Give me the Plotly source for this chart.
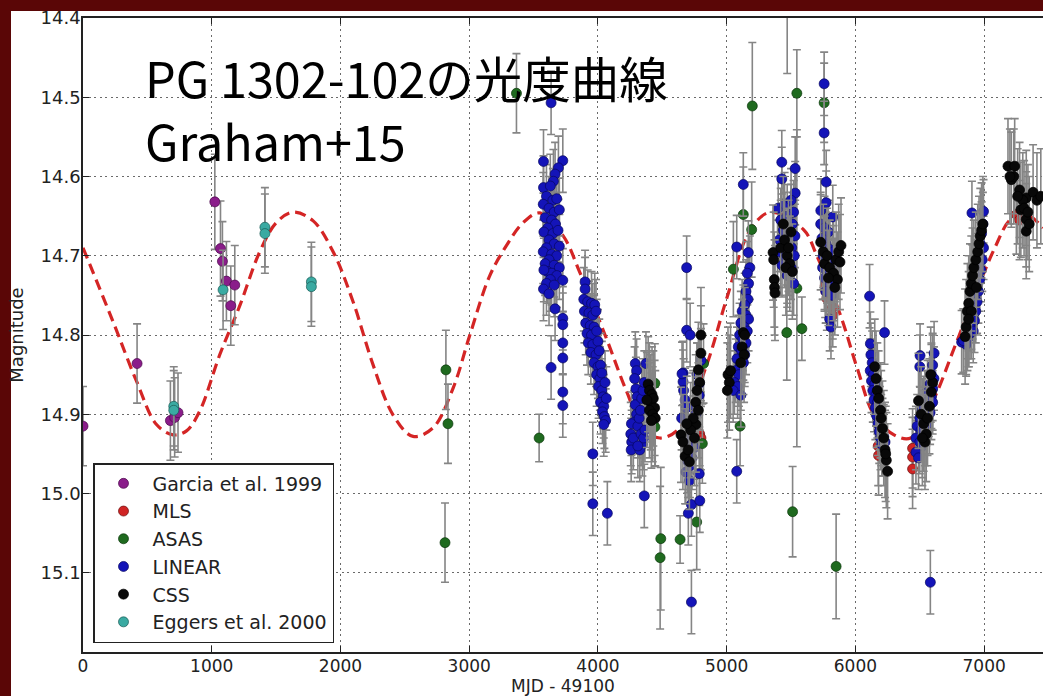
import plotly.graph_objects as go

# ---------------- data ----------------
garcia_x = [0, 420, 679, 712, 738, 1024, 1068, 1083, 1114, 1148, 1179]
garcia_y = [14.915, 14.836, 14.908, 14.904, 14.898, 14.632, 14.691, 14.707, 14.732, 14.763, 14.737]
garcia_e = [0.05, 0.05, 0.05, 0.05, 0.05, 0.06, 0.06, 0.05, 0.05, 0.05, 0.05]

mls_x = [4790, 4800, 5765, 5770, 5778, 5824, 5824, 6177, 6180, 6444, 6444, 6444, 7250, 7275]
mls_y = [14.925, 14.930, 14.738, 14.745, 14.754, 14.765, 14.775, 14.940, 14.952, 14.943, 14.954, 14.969, 14.648, 14.655]
mls_e = [0.04, 0.04, 0.04, 0.04, 0.04, 0.04, 0.04, 0.05, 0.05, 0.05, 0.05, 0.05, 0.05, 0.05]

asas_x = [2812, 2819, 2835, 3367, 3543, 4442, 4442, 4488, 4483, 4638, 4767, 4811, 4820, 5052,
          5104, 5129, 5194, 5199, 5467, 5470, 5512, 5545, 5545, 5584, 5757, 5850]
asas_y = [15.062, 14.844, 14.912, 14.495, 14.930, 14.861, 14.916, 15.057, 15.081, 15.058, 15.036, 14.937, 14.836, 14.717,
          14.915, 14.648, 14.667, 14.511, 14.797, 14.330, 15.023, 14.495, 14.741, 14.792, 14.507, 15.092]
asas_e = [0.05, 0.05, 0.05, 0.05, 0.03, 0.05, 0.05, 0.09, 0.09, 0.03, 0.06, 0.05, 0.05, 0.06,
          0.05, 0.06, 0.06, 0.08, 0.06, 0.14, 0.057, 0.055, 0.2, 0.04, 0.05, 0.066]

linear_x = [
    # 3500-3750
    3577, 3727, 3693, 3667, 3654, 3577, 3630, 3600, 3650, 3680, 3575, 3620, 3660, 3700, 3590, 3640,
    3670, 3610, 3580, 3650, 3690, 3620, 3660, 3600, 3700, 3575, 3640, 3680, 3620, 3590, 3660, 3700,
    3610, 3640, 3680, 3580, 3630, 3727, 3600, 3660, 3577, 3620, 3667, 3727, 3727, 3727, 3727, 3727,
    3727, 3636, 3636, 3960, 3960, 4073,
    # 3880-4075
    3900, 3900, 3890, 3920, 3950, 3975, 3895, 3930, 3960, 3985, 3905, 3940, 3970, 3915, 3950, 3990,
    3925, 3960, 4000, 3945, 3985, 4010, 3970, 4000, 4020, 3990, 4015, 4030, 4005, 4030, 4040, 4020,
    4045, 4035, 4050, 4060, 4045, 4065, 4055,
    # 4250-4380
    4290, 4300, 4285, 4295, 4305, 4290, 4300, 4280, 4260, 4255, 4262, 4258, 4275, 4310, 4320, 4330,
    4340, 4350, 4360, 4373, 4335, 4345, 4355, 4365, 4325, 4310, 4360,
    # 4640-4815
    4661, 4661, 4689, 4716, 4689, 4653, 4677, 4686, 4650, 4735, 4787, 4787, 4740, 4722, 4748, 4696,
    4683, 4710, 4787, 4726, 4791, 4702, 4726, 4800, 4665, 4700, 4760, 4730, 4770, 4715,
    # 5000-5200
    5129, 5078, 5168, 5180, 5160, 5170, 5150, 5165, 5140, 5120, 5150, 5170, 5110, 5135, 5160, 5100,
    5125, 5150, 5090, 5115, 5140, 5080, 5105, 5130, 5070, 5095, 5060, 5085, 5050, 5110, 5078,
    # 5380-5545
    5428, 5428, 5532, 5532, 5400, 5450, 5500, 5520, 5420, 5470, 5510, 5440, 5490, 5530, 5410, 5460,
    5505, 5525, 5450, 5480, 5395, 5430, 5500, 5470, 5520,
    # 5710-5900
    5757, 5757, 5773, 5773, 5731, 5824, 5730, 5760, 5790, 5740, 5770, 5800, 5830, 5750, 5780, 5810,
    5745, 5790, 5840, 5760, 5800, 5770, 5820, 5800, 5810,
    # 6100-6270
    6110, 6226, 6116, 6120, 6130, 6115, 6140, 6125, 6150, 6135, 6160, 6145, 6170, 6155, 6180, 6165,
    6190, 6175, 6200, 6185, 6210, 6195, 6220, 6205, 6230,
    # 6440-6630
    6502, 6611, 6500, 6600, 6590, 6610, 6580, 6600, 6560, 6590, 6540, 6570, 6600, 6520, 6550, 6580,
    6500, 6530, 6560, 6480, 6510, 6540, 6470, 6500, 6520, 6470, 6490, 6582,
    # 6815-7010
    6905, 6995, 6990, 6980, 6970, 6995, 6960, 6985, 6950, 6975, 6940, 6965, 6930, 6955, 6920, 6945,
    6910, 6935, 6900, 6925, 6890, 6915, 6880, 6870, 6860, 6825, 6838,
]
linear_y = [
    14.581, 14.580, 14.589, 14.597, 14.606, 14.614, 14.612, 14.625, 14.630, 14.628, 14.635, 14.640, 14.645, 14.642, 14.652, 14.655,
    14.660, 14.665, 14.670, 14.672, 14.668, 14.680, 14.685, 14.690, 14.688, 14.695, 14.698, 14.700, 14.705, 14.710, 14.712, 14.715,
    14.720, 14.722, 14.725, 14.718, 14.730, 14.731, 14.735, 14.737, 14.742, 14.748, 14.767, 14.779, 14.787, 14.810, 14.829, 14.872,
    14.889, 14.841, 14.507, 14.950, 15.013, 15.025,
    14.733, 14.742, 14.755, 14.758, 14.760, 14.762, 14.770, 14.772, 14.775, 14.770, 14.785, 14.788, 14.790, 14.798, 14.800, 14.795,
    14.810, 14.812, 14.808, 14.822, 14.825, 14.820, 14.835, 14.840, 14.838, 14.850, 14.855, 14.848, 14.865, 14.870, 14.878, 14.885,
    14.890, 14.897, 14.903, 14.908, 14.913, 14.880, 14.860,
    14.836, 14.845, 14.855, 14.868, 14.878, 14.888, 14.900, 14.910, 14.912, 14.925, 14.935, 14.945, 14.930, 14.915, 14.905, 14.895,
    14.880, 14.870, 14.860, 14.836, 14.925, 14.938, 14.930, 14.920, 14.945, 14.940, 15.003,
    14.848, 14.859, 14.794, 14.800, 14.715, 14.849, 14.882, 14.892, 14.905, 14.888, 14.861, 14.876, 14.917, 14.934, 14.942, 14.959,
    14.973, 14.984, 14.975, 15.014, 15.009, 15.025, 15.137, 14.832, 14.870, 14.930, 14.900, 14.955, 14.850, 14.965,
    14.610, 14.689, 14.696, 14.715, 14.722, 14.735, 14.745, 14.755, 14.762, 14.770, 14.775, 14.780, 14.785, 14.790, 14.795, 14.800,
    14.805, 14.810, 14.815, 14.820, 14.825, 14.830, 14.838, 14.835, 14.845, 14.850, 14.860, 14.865, 14.870, 14.876, 14.972,
    14.582, 14.603, 14.590, 14.621, 14.640, 14.635, 14.630, 14.645, 14.655, 14.650, 14.660, 14.668, 14.672, 14.675, 14.680, 14.685,
    14.690, 14.700, 14.700, 14.705, 14.695, 14.712, 14.715, 14.725, 14.735,
    14.483, 14.545, 14.607, 14.633, 14.643, 14.651, 14.660, 14.665, 14.670, 14.678, 14.685, 14.692, 14.695, 14.700, 14.705, 14.710,
    14.715, 14.720, 14.718, 14.728, 14.735, 14.745, 14.750, 14.780, 14.790,
    14.751, 14.797, 14.811, 14.825, 14.835, 14.845, 14.850, 14.858, 14.862, 14.870, 14.875, 14.882, 14.885, 14.892, 14.895, 14.902,
    14.905, 14.912, 14.915, 14.922, 14.920, 14.930, 14.928, 14.938, 14.935,
    14.826, 14.823, 14.840, 14.838, 14.850, 14.855, 14.862, 14.868, 14.872, 14.878, 14.885, 14.888, 14.885, 14.895, 14.900, 14.898,
    14.905, 14.910, 14.912, 14.915, 14.920, 14.925, 14.930, 14.935, 14.940, 14.948, 14.955, 15.112,
    14.646, 14.644, 14.660, 14.672, 14.685, 14.690, 14.698, 14.705, 14.712, 14.718, 14.725, 14.730, 14.738, 14.745, 14.752, 14.758,
    14.765, 14.770, 14.778, 14.782, 14.790, 14.795, 14.800, 14.805, 14.812, 14.809, 14.807,
]

css_x = [
    4390, 4400, 4420, 4410, 4430, 4440, 4400, 4425, 4445, 4415, 4380,
    4800, 4800, 4780, 4790, 4770, 4760, 4780, 4761, 4740, 4720, 4645, 4660, 4677, 4700, 4750, 4690, 4710,
    5010, 5020, 5005, 5030, 5129, 5120, 5135, 5140, 5110,
    5360, 5365, 5370, 5372, 5375, 5420, 5450, 5470, 5480, 5500, 5490, 5460, 5440, 5510,
    5730, 5750, 5760, 5780, 5800, 5830, 5850, 5870, 5888, 5880, 5860, 5840, 5790,
    6150, 6160, 6170, 6180, 6195, 6200, 6210, 6220, 6230, 6240, 6250, 6235,
    6490, 6510, 6530, 6550, 6560, 6575, 6590, 6600, 6585, 6540, 6520,
    6852, 6860, 6870, 6880, 6890, 6900, 6910, 6920, 6935, 6950, 6960, 6970, 6980, 6990, 6940, 6900, 6880,
    7185, 7237, 7211, 7275, 7327, 7327, 7327, 7285, 7300, 7260, 7310, 7340, 7350, 7230, 7200, 7380, 7410, 7440,
]
css_y = [
    14.862, 14.870, 14.875, 14.885, 14.880, 14.892, 14.895, 14.900, 14.905, 14.908, 14.882,
    14.800, 14.823, 14.844, 14.860, 14.870, 14.885, 14.895, 14.913, 14.905, 14.920, 14.926, 14.935, 14.953, 14.945, 14.930, 14.912, 14.960,
    14.850, 14.860, 14.870, 14.845, 14.797, 14.815, 14.825, 14.800, 14.835,
    14.696, 14.705, 14.730, 14.740, 14.747, 14.690, 14.680, 14.700, 14.690, 14.670, 14.710, 14.715, 14.660, 14.720,
    14.683, 14.695, 14.710, 14.700, 14.715, 14.722, 14.705, 14.695, 14.687, 14.708, 14.730, 14.740, 14.728,
    14.840, 14.855, 14.870, 14.880, 14.895, 14.905, 14.918, 14.930, 14.945, 14.958, 14.972, 14.950,
    14.883, 14.900, 14.912, 14.925, 14.905, 14.890, 14.872, 14.860, 14.850, 14.935, 14.930,
    14.802, 14.790, 14.770, 14.760, 14.745, 14.735, 14.725, 14.715, 14.705, 14.695, 14.685, 14.675, 14.668, 14.660, 14.740, 14.770, 14.780,
    14.587, 14.587, 14.604, 14.617, 14.627, 14.654, 14.669, 14.642, 14.630, 14.625, 14.640, 14.645, 14.660, 14.600, 14.600, 14.620, 14.630, 14.625,
]

eggers_x = [705, 705, 1088, 1413, 1413, 1774, 1774]
eggers_y = [14.890, 14.895, 14.743, 14.664, 14.672, 14.733, 14.739]
eggers_e = [0.05, 0.05, 0.05, 0.05, 0.05, 0.05, 0.05]

model_x = [0, 233, 415, 571, 700, 804, 907, 1062, 1218, 1373, 1503, 1632, 1788, 1943, 2098, 2254, 2409,
           2564, 2720, 2875, 3005, 3160, 3290, 3420, 3549, 3730, 3859, 4067, 4222, 4352, 4481, 4637,
           4844, 5000, 5181, 5340, 5597, 5700, 5886, 6016, 6145, 6300, 6430, 6611, 6766, 6948, 7077,
           7207, 7330, 7457]
model_y = [14.690, 14.783, 14.858, 14.913, 14.926, 14.921, 14.896, 14.825, 14.763, 14.695, 14.658, 14.645,
           14.656, 14.695, 14.758, 14.838, 14.901, 14.928, 14.917, 14.867, 14.800, 14.725, 14.687, 14.658,
           14.646, 14.675, 14.721, 14.805, 14.871, 14.917, 14.930, 14.917, 14.838, 14.754, 14.668, 14.645,
           14.667, 14.700, 14.776, 14.843, 14.901, 14.926, 14.930, 14.880, 14.817, 14.742, 14.692, 14.654,
           14.648, 14.665]

y_ticks = [14.4, 14.5, 14.6, 14.7, 14.8, 14.9, 15.0, 15.1]
x_ticks = [0, 1000, 2000, 3000, 4000, 5000, 6000, 7000]

# ---------------- figure ----------------
ERR_COLOR = "#858585"
fig = go.Figure()


def add_series(name, xs, ys, errs, color, edge):
    fig.add_trace(go.Scatter(
        x=xs, y=ys, mode="markers", name=name,
        marker=dict(size=10, color=color, line=dict(width=0.7, color=edge)),
        error_y=dict(type="data", array=errs, color=ERR_COLOR, thickness=1.6, width=4),
    ))


# model curve first (drawn under the points)
fig.add_trace(go.Scatter(
    x=model_x, y=model_y, mode="lines", showlegend=False, hoverinfo="skip",
    line=dict(color="#d42525", width=3.2, dash="11px,6px", shape="spline", smoothing=1.0),
))

add_series("Garcia et al. 1999", garcia_x, garcia_y, garcia_e, "#8a1d8a", "#4a0a4a")
add_series("MLS", mls_x, mls_y, mls_e, "#d02424", "#6a0d0d")
add_series("ASAS", asas_x, asas_y, asas_e, "#1f6a1f", "#0c360c")
add_series("LINEAR", linear_x, linear_y, [0.04] * len(linear_x), "#1414b8", "#07075e")
add_series("CSS", css_x, css_y, [0.06] * len(css_x), "#080808", "#000000")
add_series("Eggers et al. 2000", eggers_x, eggers_y, eggers_e, "#3aaaa2", "#1a5a55")

PLOT_L, PLOT_T, PLOT_B, PLOT_W, PLOT_H = 83, 18, 652, 960, 634


def px_x(p):
    return (p - PLOT_L) / PLOT_W


def px_y(p):
    return (PLOT_B - p) / PLOT_H


fig.update_layout(
    width=1043, height=696,
    margin=dict(l=PLOT_L, r=0, t=PLOT_T, b=696 - PLOT_B, pad=0, autoexpand=False),
    paper_bgcolor="#5a0606",
    plot_bgcolor="#ffffff",
    showlegend=True,
    legend=dict(
        x=px_x(93), y=px_y(643), xanchor="left", yanchor="bottom",
        bgcolor="#ffffff", bordercolor="#222222", borderwidth=1.5,
        font=dict(family="DejaVu Sans", size=19, color="#222222"),
        itemwidth=48, tracegroupgap=0,
    ),
    xaxis=dict(
        range=[0, 7457], tickvals=x_ticks, ticktext=[str(v) for v in x_ticks],
        showgrid=True, gridcolor="#6a6a6a", gridwidth=1, griddash="2px,3.5px",
        showline=True, linecolor="#222222", linewidth=1.6, mirror="ticks",
        ticks="inside", ticklen=6, tickcolor="#222222",
        tickfont=dict(family="DejaVu Sans", size=17, color="#222222"),
        zeroline=False, automargin=False, ticklabelstandoff=-2,
        title=dict(text="MJD - 49100", font=dict(family="DejaVu Sans", size=17, color="#222222"), standoff=10),
    ),
    yaxis=dict(
        range=[15.2, 14.4], tickvals=y_ticks, ticktext=[f"{v:.1f}" for v in y_ticks],
        showgrid=True, gridcolor="#6a6a6a", gridwidth=1, griddash="2px,3.5px",
        showline=True, linecolor="#222222", linewidth=1.6,
        ticks="inside", ticklen=6, tickcolor="#222222",
        tickfont=dict(family="DejaVu Sans", size=18, color="#222222"),
        zeroline=False, automargin=False, ticklabelstandoff=-3,
        title=dict(text="Magnitude", font=dict(family="DejaVu Sans", size=18, color="#222222"), standoff=12),
    ),
    shapes=[
        dict(type="rect", xref="paper", yref="paper", layer="below",
             x0=px_x(11), x1=1.05, y0=-0.2, y1=px_y(11),
             fillcolor="#ffffff", line=dict(width=0)),
    ],
    annotations=[
        dict(text="PG 1302-102の光度曲線<br>Graham+15", xref="paper", yref="paper",
             x=px_x(143), y=px_y(108), xanchor="left", yanchor="middle", align="left",
             showarrow=False, font=dict(family="Noto Sans CJK JP", size=48.5, color="#000000")),
    ],
)

fig.write_html(
    "out.html",
    config={"displayModeBar": False},
    post_script="document.body.style.margin='0px';document.body.style.padding='0px';",
)
